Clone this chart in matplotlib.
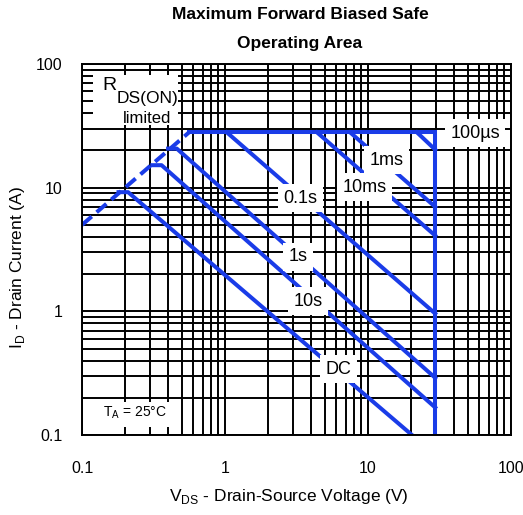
import matplotlib.pyplot as plt
from matplotlib.patches import Rectangle
from matplotlib.ticker import FixedLocator, FixedFormatter, NullFormatter

plt.rcParams['font.family'] = ['Liberation Sans', 'DejaVu Sans']

BLUE = '#1a3ce8'

# decade ticks
tick_vals = [0.1, 1, 10, 100]
tick_text = ['0.1', '1', '10', '100']

# RDS(on) limited region (dashed)
rds_v = [0.1, 0.56]
rds_i = [5.0, 28.0]

# current limit + VDS limit outline
limit_v = [0.56, 29.5, 29.5]
limit_i = [28, 28, 0.1]

# pulse width curves
pulse_names = ['100µs', '1ms', '10ms', '0.1s', '1s', '10s', 'DC']
pulse_v = [[22, 29.5], [7.5, 29.5], [4.4, 29.5], [1.03, 29.5],
           [0.40, 0.46, 29.5], [0.31, 0.36, 29.5], [0.18, 0.21, 20.3]]
pulse_i = [[28, 20.3], [28, 7.0], [28, 4.1], [28, 0.96],
           [20.7, 20.7, 0.29], [15.2, 15.2, 0.167], [9.2, 9.2, 0.1]]
label_v = [56, 13.5, 9.5, 3.35, 3.26, 3.8, 6.2]
label_i = [27.5, 16.7, 10.1, 8.2, 2.77, 1.21, 0.34]

fig = plt.figure(figsize=(5.23, 5.15), dpi=100)
ax = fig.add_axes([0.1568, 0.1553, 0.8203, 0.7204])
ax.set_xscale('log')
ax.set_yscale('log')
ax.set_xlim(0.1, 100)
ax.set_ylim(0.1, 100)

ax.set_axisbelow(True)
ax.grid(True, which='both', color='black', linewidth=1.4)
for s in ax.spines.values():
    s.set_linewidth(1.4)

ax.xaxis.set_major_locator(FixedLocator(tick_vals))
ax.xaxis.set_major_formatter(FixedFormatter(tick_text))
ax.yaxis.set_major_locator(FixedLocator(tick_vals))
ax.yaxis.set_major_formatter(FixedFormatter(tick_text))
ax.xaxis.set_minor_formatter(NullFormatter())
ax.yaxis.set_minor_formatter(NullFormatter())
ax.tick_params(axis='both', which='both', length=0, labelsize=11.5)
ax.tick_params(axis='x', pad=19)
ax.tick_params(axis='y', pad=14)

# white boxes behind the annotations
ax.add_patch(Rectangle((0.026, 0.836), 0.198, 0.134, transform=ax.transAxes,
                       fc='white', ec='none', zorder=1))
ax.add_patch(Rectangle((0.004, 0.022), 0.212, 0.067, transform=ax.transAxes,
                       fc='white', ec='none', zorder=1))

ax.plot(rds_v, rds_i, color=BLUE, lw=2.9, dashes=(3.2, 1.6), zorder=2)
ax.plot(limit_v, limit_i, color=BLUE, lw=2.9, zorder=2, solid_joinstyle='miter')
for v, i in zip(pulse_v, pulse_i):
    ax.plot(v, i, color=BLUE, lw=2.9, zorder=2)

for name, x, y in zip(pulse_names, label_v, label_i):
    ax.text(x, y, name, fontsize=13, ha='center', va='center', zorder=4,
            bbox=dict(boxstyle='square,pad=0.3', fc='white', ec='none'))

ax.text(0.048, 0.943, 'R', transform=ax.transAxes, fontsize=14,
        ha='left', va='center', zorder=4)
ax.text(0.080, 0.906, 'DS(ON)', transform=ax.transAxes, fontsize=12.5,
        ha='left', va='center', zorder=4)
ax.text(0.152, 0.854, 'limited', transform=ax.transAxes, fontsize=12,
        ha='center', va='center', zorder=4)
ax.text(0.124, 0.059, r'T$_\mathregular{A}$ = 25°C', transform=ax.transAxes,
        fontsize=10, ha='center', va='center', zorder=4)

fig.text(0.5736, 0.971, 'Maximum Forward Biased Safe', fontsize=12.5,
         fontweight='bold', ha='center', va='center')
fig.text(0.5736, 0.9165, 'Operating Area', fontsize=12.5,
         fontweight='bold', ha='center', va='center')
fig.text(0.553, 0.035, r'V$_\mathregular{DS}$ - Drain-Source Voltage (V)',
         fontsize=12.5, ha='center', va='center')
fig.text(0.033, 0.48, r'I$_\mathregular{D}$ - Drain Current (A)',
         fontsize=12.5, ha='center', va='center', rotation=90)

fig.savefig('out.png', dpi=100)
